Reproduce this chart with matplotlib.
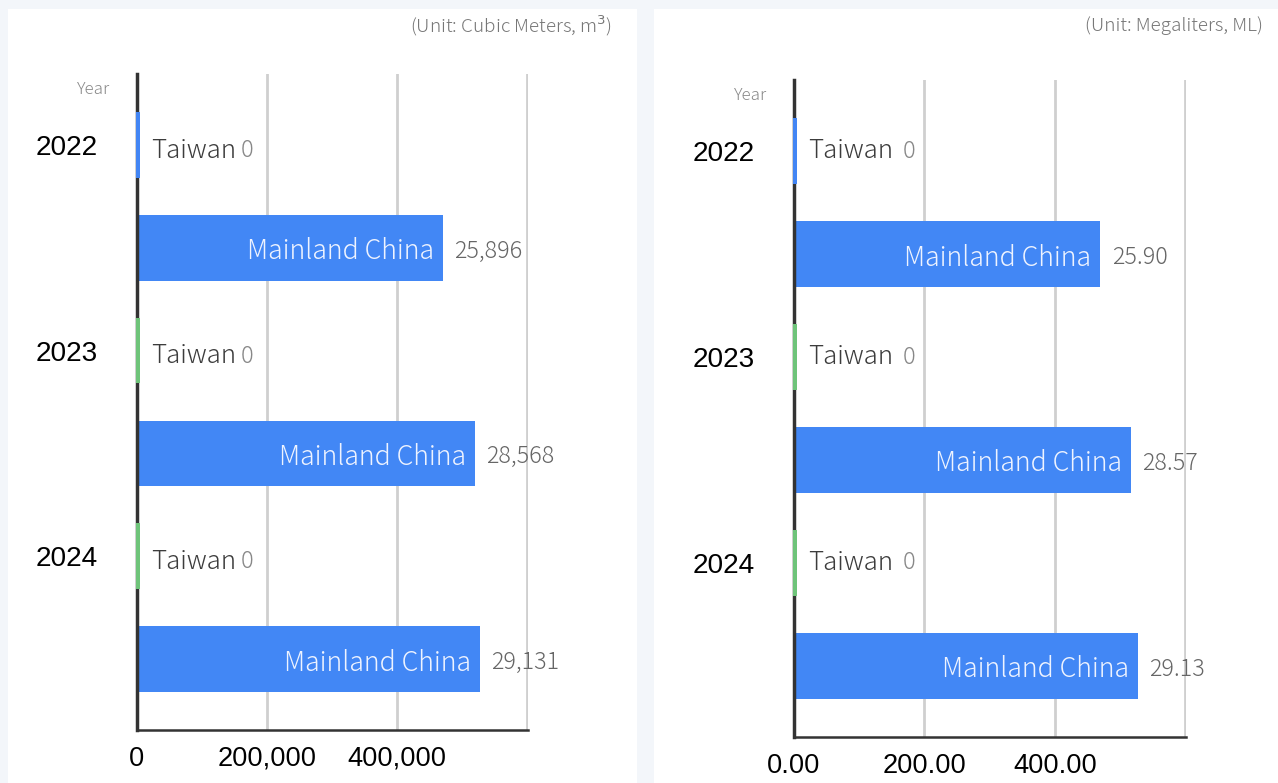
import matplotlib
matplotlib.use('Agg')
import matplotlib.pyplot as plt
from matplotlib.patches import Rectangle

# data
years = ['2022', '2023', '2024']
regions = ['Taiwan', 'Mainland China']
taiwan_labels = ['0', '0', '0']
taiwan_colors = ['#4285f4', '#6fc47a', '#6fc47a']

# left panel: cubic meters
m3_labels = ['25,896', '28,568', '29,131']
m3_bars = [471000, 519000, 528000]      # drawn bar length on the axis scale
m3_ticks = [0, 200000, 400000, 600000]
m3_ticklabels = ['0', '200,000', '400,000', '']

# right panel: megaliters
ml_labels = ['25.90', '28.57', '29.13']
ml_bars = [470, 517, 528]
ml_ticks = [0, 200, 400, 600]
ml_ticklabels = ['0.00', '200.00', '400.00', '']

BLUE = '#4287f5'
LIGHT = ['Noto Sans CJK JP', 'DejaVu Sans']

fig = plt.figure(figsize=(12.78, 7.83), dpi=100)
fig.patch.set_facecolor('#f3f6fa')

# white cards
fig.add_artist(Rectangle((8 / 1278, 0), (637 - 8) / 1278, 1 - 9 / 783,
                         transform=fig.transFigure, facecolor='white', edgecolor='none', zorder=0))
fig.add_artist(Rectangle((654 / 1278, 0), (1278 - 654) / 1278, 1 - 9 / 783,
                         transform=fig.transFigure, facecolor='white', edgecolor='none', zorder=0))


def panel(rect, bars, labels, ticks, ticklabels, stub, zero_gap, tw_dy, unit, unit_x, unit_y):
    ax = fig.add_axes(rect)
    ax.set_facecolor('none')
    xmax = ticks[-1]
    ax.set_xlim(0, xmax * 1.002)
    ax.set_ylim(5.69, -0.69)

    for i in range(len(years)):
        yt = 2 * i
        ym = 2 * i + 1
        # Taiwan: zero value, drawn as a thin stub over the axis line
        ax.barh(yt, stub, left=-stub * 0.3, height=0.64, color=taiwan_colors[i],
                zorder=6, clip_on=False)
        t = ax.annotate(regions[0], xy=(0, yt), xytext=(10, tw_dy), textcoords='offset points',
                        ha='left', va='center', fontsize=18.6, color='#3c3c3c',
                        family=LIGHT, fontweight='light', zorder=5)
        ax.annotate(taiwan_labels[i], xy=(1, 0.5), xycoords=t, xytext=(zero_gap, 0),
                    textcoords='offset points', ha='left', va='center', fontsize=17,
                    color='#888888', family=LIGHT, fontweight='light', zorder=5)
        # Mainland China
        ax.barh(ym, bars[i], height=0.64, color=BLUE, zorder=3)
        ax.annotate(regions[1], xy=(bars[i], ym), xytext=(-6.5, -2.5), textcoords='offset points',
                    ha='right', va='center', fontsize=19.2, color='#eef3ff',
                    family=LIGHT, fontweight='light', zorder=5)
        ax.annotate(labels[i], xy=(bars[i], ym), xytext=(8, -2.5), textcoords='offset points',
                    ha='left', va='center', fontsize=16.8, color='#666666',
                    family=LIGHT, fontweight='light', zorder=5)

    ax.set_xticks(ticks)
    ax.set_xticklabels(ticklabels, family='Liberation Sans', fontsize=19.6, color='black')
    ax.set_yticks([0, 2, 4])
    ax.set_yticklabels(years, family='Liberation Sans', fontsize=20.2, color='black')
    ax.tick_params(axis='x', length=0, pad=11.5)
    ax.tick_params(axis='y', length=0, pad=28.5)
    ax.grid(axis='x', color='#cfcfcf', linewidth=2, zorder=1)
    for s in ['top', 'right']:
        ax.spines[s].set_visible(False)
    ax.spines['left'].set_color('#333333')
    ax.spines['left'].set_linewidth(2.5)
    ax.spines['left'].set_zorder(4)
    ax.spines['bottom'].set_color('#333333')
    ax.spines['bottom'].set_linewidth(1.8)
    ax.text(-0.068, 1.0 - 15 / (rect[3] * 783), 'Year', transform=ax.transAxes, ha='right', va='center',
            fontsize=12.2, color='#888888', family=LIGHT, fontweight='light')
    fig.text(unit_x, unit_y, unit, ha='right', va='center', fontsize=13.6, color='#777777',
             family=LIGHT, fontweight='light')
    return ax


panel([137 / 1278, 1 - 730 / 783, 391 / 1278, 656 / 783], m3_bars, m3_labels, m3_ticks, m3_ticklabels,
      7500, 3.5, -4, '(Unit: Cubic Meters, m$^3$)', 612 / 1278, 1 - 26 / 783)
panel([794 / 1278, 1 - 737 / 783, 392 / 1278, 657 / 783], ml_bars, ml_labels, ml_ticks, ml_ticklabels,
      7.5, 7, 0, '(Unit: Megaliters, ML)', 1263 / 1278, 1 - 26 / 783)

fig.savefig('out.png', dpi=100, facecolor=fig.get_facecolor())
